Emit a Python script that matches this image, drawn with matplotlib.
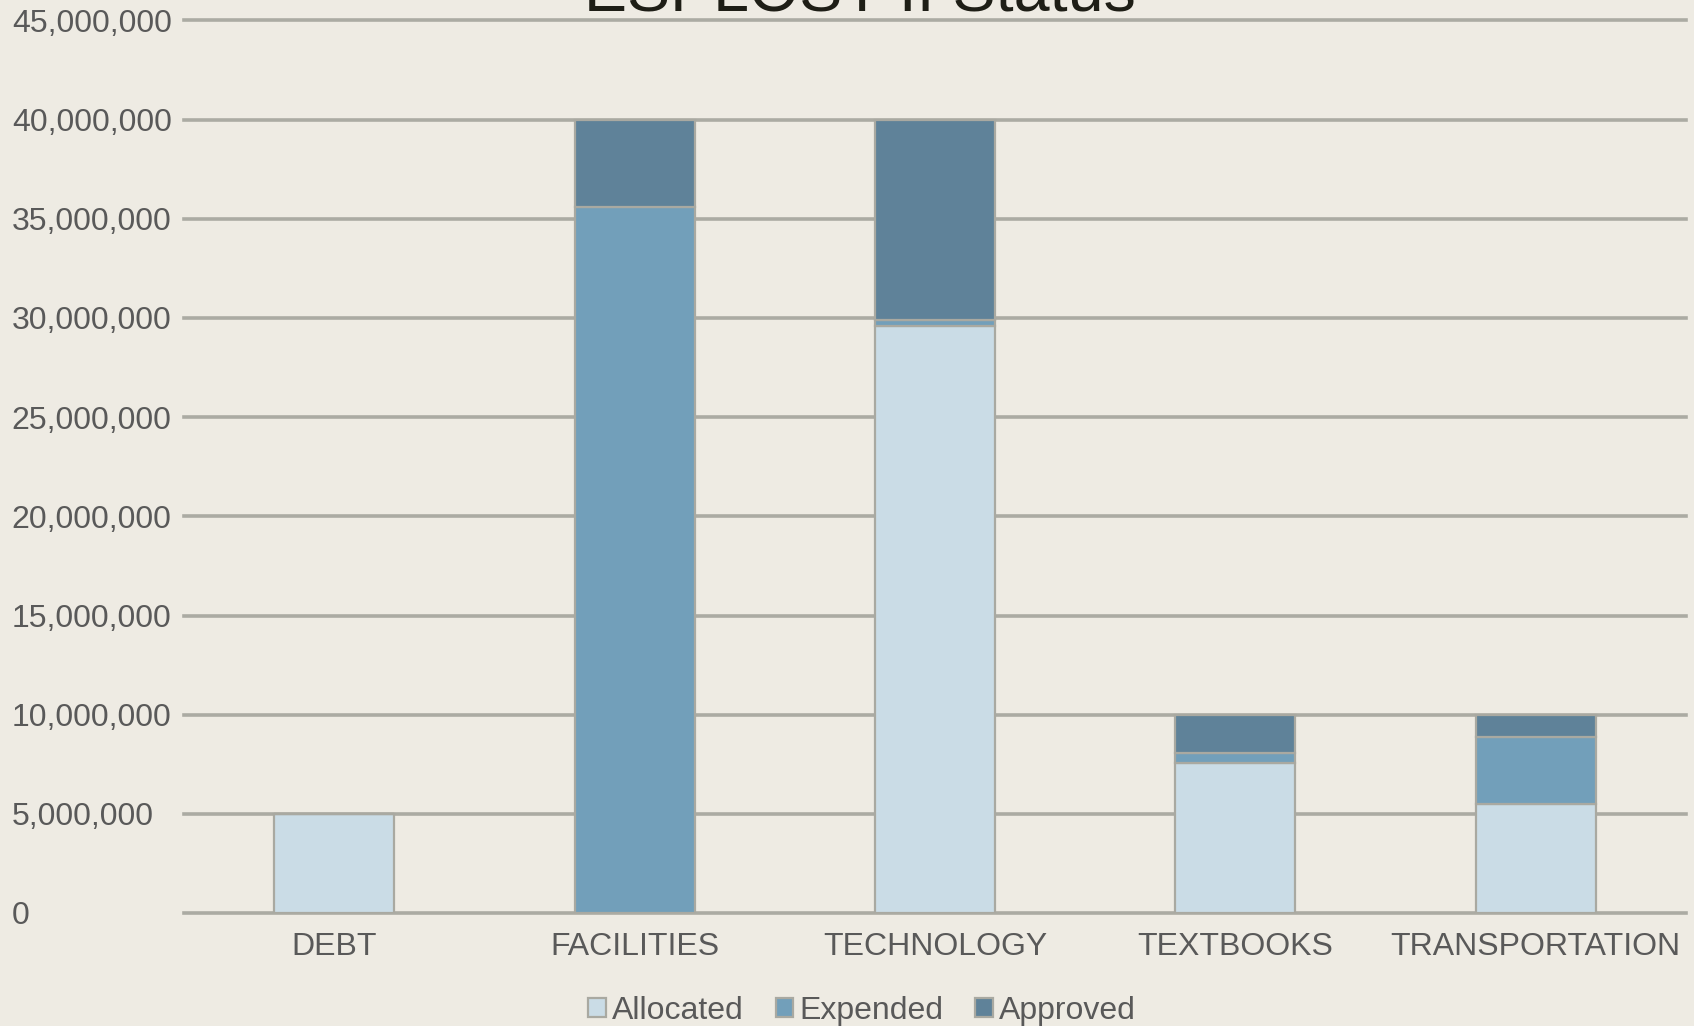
import matplotlib; matplotlib.use("Agg")
import matplotlib.pyplot as plt
import numpy as np

categorias = ["DEBT", "FACILITIES", "TECHNOLOGY", "TEXTBOOKS", "TRANSPORTATION"]
allocated = [5_000_000, 0, 29_600_000, 7_550_000, 5_500_000]
expended = [0, 35_600_000, 300_000, 500_000, 3_370_000]
approved = [0, 4_400_000, 10_100_000, 1_950_000, 1_130_000]
yticks = np.arange(0, 45_000_001, 5_000_000)

FONDO = "#EEEBE3"
GRIS = "#595959"
plt.rcParams["font.family"] = ["Liberation Sans", "DejaVu Sans"]

fig = plt.figure(figsize=(16.94, 10.26), dpi=100, facecolor=FONDO)
ax = fig.add_axes([184 / 1694, 1 - 913 / 1026, 1502 / 1694, 892.5 / 1026], facecolor=FONDO)

x = np.arange(len(categorias))
kw = dict(width=0.4, edgecolor="#A9A9A1", linewidth=1.6, zorder=3)
ax.bar(x, allocated, color="#CADCE6", label="Allocated", **kw)
ax.bar(x, expended, bottom=allocated, color="#729FBA", label="Expended", **kw)
ax.bar(x, approved, bottom=np.add(allocated, expended), color="#5F8299", label="Approved", **kw)

ax.set_xlim(-0.5, len(categorias) - 0.5)
ax.set_ylim(0, 45_000_000)
ax.set_yticks(yticks)
ax.set_yticklabels([f"{v:,.0f}" for v in yticks])
ax.set_xticks(x)
ax.set_xticklabels(categorias)
for s in ax.spines.values():
    s.set_visible(False)
ax.yaxis.grid(True, color="#ABABA3", linewidth=2.6, zorder=0)
ax.set_axisbelow(True)
for ln in ax.get_ygridlines():
    ln.set_clip_on(False)
ax.tick_params(axis="y", length=0, pad=124, labelsize=23, labelcolor=GRIS)
ax.tick_params(axis="x", length=0, pad=14, labelsize=23, labelcolor=GRIS)
for lab in ax.get_yticklabels():
    lab.set_horizontalalignment("left")

# titulo cortado arriba, como en el original
fig.text(860 / 1694, 1 - 12 / 1026, "ESPLOST II Status", ha="center", va="baseline",
         fontsize=46.5, color="#1E1E16")

leg = fig.legend(loc="center", bbox_to_anchor=(862 / 1694, 1 - 1011 / 1026), ncol=3,
                 frameon=False, fontsize=23, handlelength=0.55, handleheight=0.55,
                 handletextpad=0.19, columnspacing=1.0, labelcolor=GRIS)
for h in leg.legend_handles:
    h.set_edgecolor("#A9A9A1")

fig.savefig("out.png", dpi=100, facecolor=FONDO)
